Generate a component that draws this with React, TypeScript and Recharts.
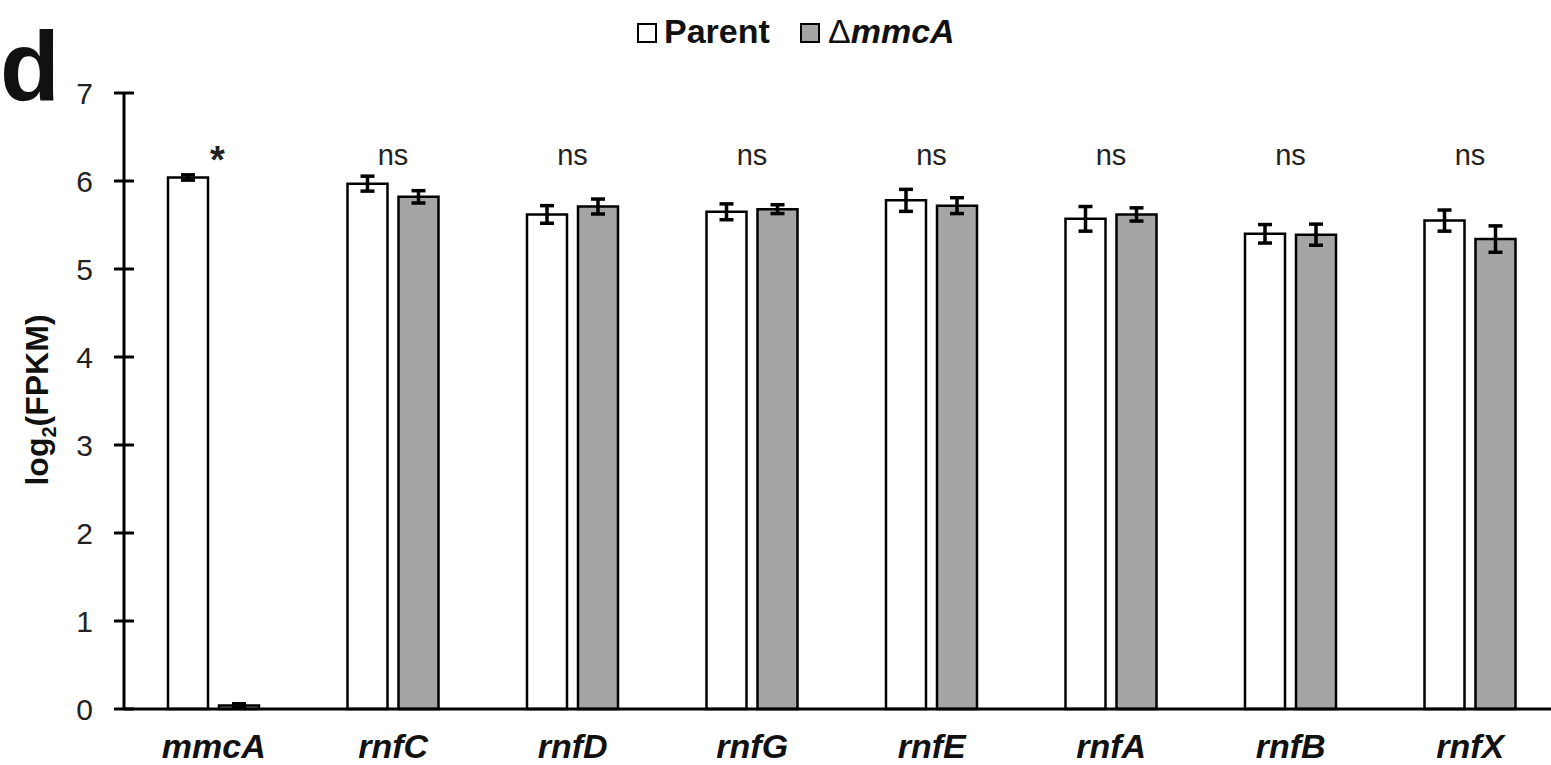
import React from 'react';
import { BarChart, Bar, XAxis, YAxis, ErrorBar, LabelList } from 'recharts';

const genes = ['mmcA', 'rnfC', 'rnfD', 'rnfG', 'rnfE', 'rnfA', 'rnfB', 'rnfX'];
const parentMean = [6.04, 5.97, 5.62, 5.65, 5.78, 5.57, 5.4, 5.55];
const parentErr = [0.03, 0.085, 0.1, 0.09, 0.125, 0.14, 0.105, 0.12];
const mutantMean = [0.04, 5.82, 5.71, 5.68, 5.72, 5.62, 5.39, 5.34];
const mutantErr = [0.02, 0.07, 0.085, 0.05, 0.09, 0.075, 0.12, 0.15];
const sigLabels = ['*', 'ns', 'ns', 'ns', 'ns', 'ns', 'ns', 'ns'];
const yTicks = [0, 1, 2, 3, 4, 5, 6, 7];
const seriesNames = ['Parent', 'mmcA'];

const data = genes.map((g, i) => ({
  gene: g,
  parent: parentMean[i],
  parentErr: parentErr[i],
  mutant: mutantMean[i],
  mutantErr: mutantErr[i],
  sig: sigLabels[i],
}));

const FONT = '"Liberation Sans", Arial, sans-serif';

const YTick = (props: any) => {
  const { x, y, payload } = props;
  return (
    <g>
      <line x1={x - 10} x2={x + 10} y1={y} y2={y} stroke="#000" strokeWidth={3} />
      <text x={x - 31} y={y} textAnchor="end" dominantBaseline="central" fontSize={30} fill="#222" fontFamily={FONT}>
        {payload.value}
      </text>
    </g>
  );
};

const XTick = (props: any) => {
  const { x, y, payload } = props;
  return (
    <text x={x} y={y + 49} textAnchor="middle" fontSize={34} fontWeight="bold" fontStyle="italic" fill="#111" fontFamily={FONT}>
      {payload.value}
    </text>
  );
};

const SigLabel = (props: any) => {
  const vb = props.viewBox || {};
  const x = props.x ?? vb.x;
  const y = props.y ?? vb.y;
  const width = props.width ?? vb.width;
  const height = props.height ?? vb.height;
  const index = props.index;
  const value = props.value;
  const v = parentMean[index];
  const bottom = y + height;
  const perUnit = height / v;
  const cx = x + width + 5.5;
  if (value === '*') {
    const yb = bottom - 6.09 * perUnit;
    return (
      <text x={cx + 4} y={yb} textAnchor="middle" fontSize={38} fontWeight="bold" fill="#222" fontFamily={FONT}>
        {value}
      </text>
    );
  }
  const yb = bottom - 6.18 * perUnit;
  return (
    <text x={cx} y={yb} textAnchor="middle" fontSize={29} fill="#222" fontFamily={FONT}>
      {value}
    </text>
  );
};

export default function App() {
  return (
    <div
      style={{
        position: 'fixed',
        left: 0,
        top: 0,
        width: 1551,
        height: 765,
        overflow: 'hidden',
        background: '#fff',
        fontFamily: FONT,
      }}
    >
      <BarChart
        width={1560}
        height={765}
        data={data}
        margin={{ top: 93, right: 0, bottom: 0, left: 0 }}
        barSize={40}
        barGap={11}
      >
        <XAxis
          dataKey="gene"
          height={56}
          axisLine={{ stroke: '#000', strokeWidth: 3 }}
          tickLine={false}
          tickSize={0}
          tickMargin={0}
          tick={<XTick />}
          interval={0}
        />
        <YAxis
          width={124}
          domain={[0, 7]}
          ticks={yTicks}
          interval={0}
          axisLine={{ stroke: '#000', strokeWidth: 3 }}
          tickLine={false}
          tickSize={0}
          tickMargin={0}
          tick={<YTick />}
        />
        <Bar dataKey="parent" fill="#ffffff" stroke="#000" strokeWidth={2.5} isAnimationActive={false}>
          <ErrorBar dataKey="parentErr" width={7} stroke="#000" strokeWidth={3.5} />
          <LabelList dataKey="sig" content={<SigLabel />} />
        </Bar>
        <Bar dataKey="mutant" fill="#a5a5a5" stroke="#000" strokeWidth={2.5} isAnimationActive={false}>
          <ErrorBar dataKey="mutantErr" width={7} stroke="#000" strokeWidth={3.5} />
        </Bar>
      </BarChart>
      <svg
        width={1551}
        height={765}
        style={{ position: 'absolute', left: 0, top: 0, pointerEvents: 'none' }}
      >
        <text x={0} y={100} fontSize={98} fontWeight="bold" fill="#111" fontFamily={FONT}>
          d
        </text>
        <rect x={638} y={24} width={18} height={18} fill="#fff" stroke="#000" strokeWidth={2} />
        <text x={664} y={43} fontSize={34} fontWeight="bold" fill="#111" fontFamily={FONT}>
          {seriesNames[0]}
        </text>
        <rect x={801} y={24} width={18} height={18} fill="#a5a5a5" stroke="#000" strokeWidth={2} />
        <text x={828} y={43} fontSize={34} fontWeight="bold" fill="#111" fontFamily={FONT}>
          <tspan fontStyle="normal" fontWeight="normal">Δ</tspan>
          <tspan fontStyle="italic">{seriesNames[1]}</tspan>
        </text>
        <text
          transform="translate(48, 400) rotate(-90)"
          textAnchor="middle"
          fontSize={32}
          fontWeight="bold"
          fill="#111"
          fontFamily={FONT}
        >
          log
          <tspan fontSize={20} dy={8}>2</tspan>
          <tspan dy={-8}>(FPKM)</tspan>
        </text>
      </svg>
    </div>
  );
}
